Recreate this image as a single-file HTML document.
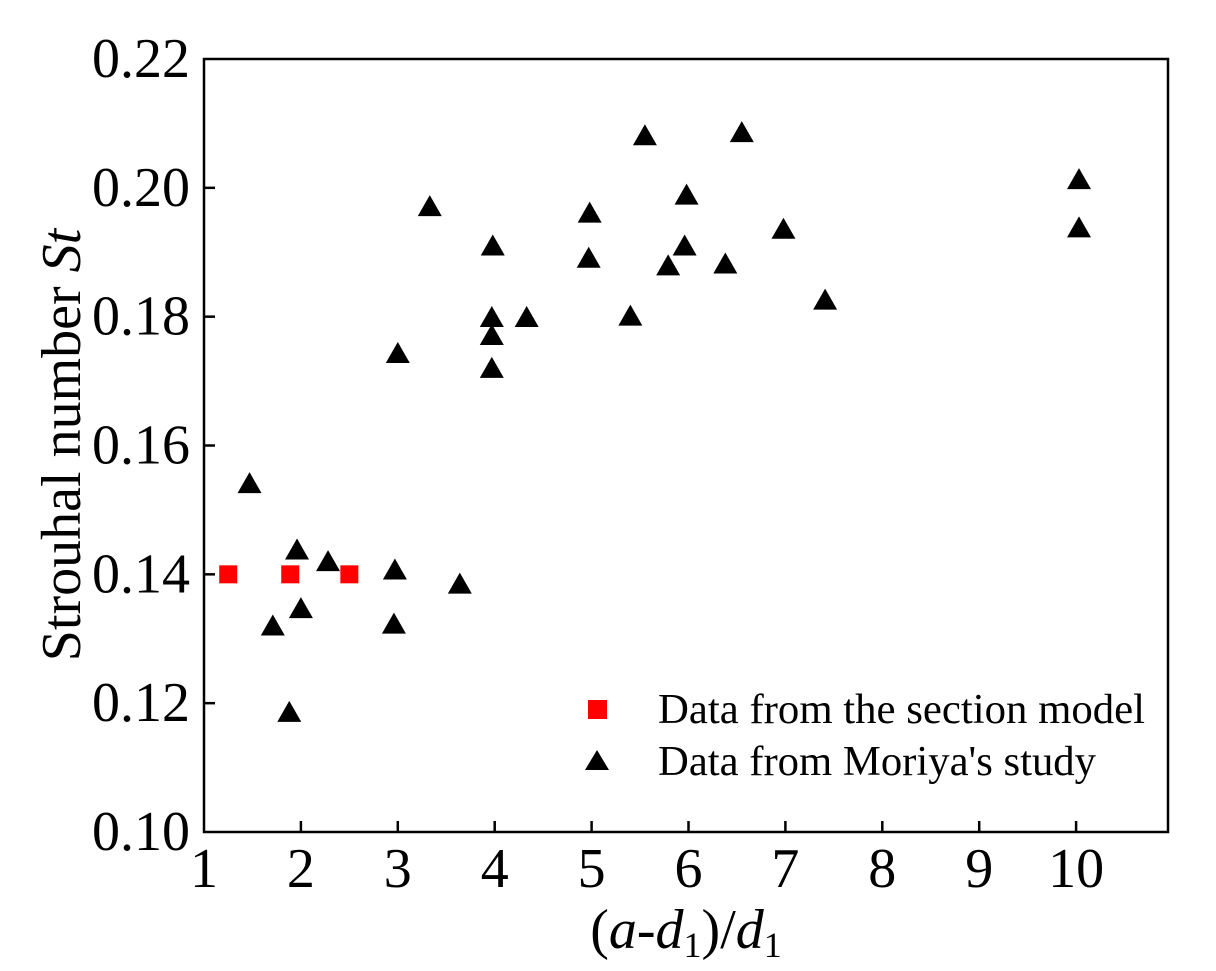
<!DOCTYPE html>
<html><head><meta charset="utf-8"><style>
html,body{margin:0;padding:0;background:#fff;}
svg{display:block;font-family:"Liberation Serif","Times New Roman",serif;}
</style></head><body>
<svg id="chart" width="1216" height="971" viewBox="0 0 1216 971" xmlns="http://www.w3.org/2000/svg">
<rect x="204" y="59" width="964" height="773" fill="none" stroke="#000" stroke-width="2.5"/>
<g id="ticks"></g>
<g id="marks"></g>
<text x="686" y="948" font-size="56" text-anchor="middle">(<tspan font-style="italic">a</tspan>-<tspan font-style="italic">d</tspan><tspan font-size="36" dy="9">1</tspan><tspan dy="-9">)/</tspan><tspan font-style="italic">d</tspan><tspan font-size="36" dy="9">1</tspan></text>
<text transform="translate(80,445) rotate(-90)" font-size="56" text-anchor="middle">Strouhal number <tspan font-style="italic">St</tspan></text>
<g>
<rect x="588" y="700" width="19" height="19" fill="#f00"/>
<text x="658" y="723" font-size="42" textLength="487" lengthAdjust="spacingAndGlyphs">Data from the section model</text>
<polygon points="597,750 609,770 585,770" fill="#000"/>
<text x="658" y="775" font-size="42" textLength="438" lengthAdjust="spacingAndGlyphs">Data from Moriya's study</text>
</g>
</svg>
<script>
const xTicks=[1,2,3,4,5,6,7,8,9,10];
const yTicks=[0.10,0.12,0.14,0.16,0.18,0.20,0.22];
const sectionX=[1.25,1.89,2.50];
const sectionY=[0.140,0.140,0.140];
const moriyaX=[1.47,1.96,2.28,1.71,2.00,1.88,2.97,2.96,3.64,3.00,3.33,3.98,3.97,3.97,3.97,4.33,4.98,4.97,5.40,5.55,5.79,5.98,5.96,6.38,6.55,6.98,7.41,10.03,10.03];
const moriyaY=[0.1540,0.1437,0.1419,0.1319,0.1346,0.1185,0.1406,0.1322,0.1384,0.1742,0.1970,0.1909,0.1798,0.1770,0.1719,0.1798,0.1960,0.1890,0.1800,0.2080,0.1878,0.1988,0.1909,0.1881,0.2085,0.1935,0.1825,0.2012,0.1937];
const NS="http://www.w3.org/2000/svg";
function sx(v){return 204+(v-1)*96.9;}
function sy(v){return 832-(v-0.10)/0.12*773;}
function mk(tag,attrs,parent){const e=document.createElementNS(NS,tag);for(const k in attrs)e.setAttribute(k,attrs[k]);parent.appendChild(e);return e;}
const tg=document.getElementById('ticks');
xTicks.forEach(v=>{
 if(v>1){const l=mk('line',{x1:sx(v),x2:sx(v),y1:832,y2:821,stroke:'#000','stroke-width':2.5},tg);
 
 }
 const t=mk('text',{x:sx(v),y:887,'font-size':56,'text-anchor':'middle'},tg);
 t.textContent=String(v);
 
 
});
yTicks.forEach(v=>{
 if(v>0.101&&v<0.219){const l=mk('line',{x1:204,x2:215,y1:sy(v),y2:sy(v),stroke:'#000','stroke-width':2.5},tg);
 
 }
 const t=mk('text',{x:190,y:sy(v)+18,'font-size':56,'text-anchor':'end'},tg);
 t.textContent=v.toFixed(2);
 
 
});
const mg=document.getElementById('marks');
sectionX.forEach((x,i)=>{
 const cx=sx(x),cy=sy(sectionY[i]);
 const r=mk('rect',{x:cx-9,y:cy-9,width:18,height:18,fill:'#f00'},mg);
 
 
});
moriyaX.forEach((x,i)=>{
 const cx=sx(x),cy=sy(moriyaY[i]);
 const p=mk('polygon',{points:`${cx},${cy-12} ${cx+12},${cy+9} ${cx-12},${cy+9}`,fill:'#000'},mg);
 
 
});
</script>
</body></html>
